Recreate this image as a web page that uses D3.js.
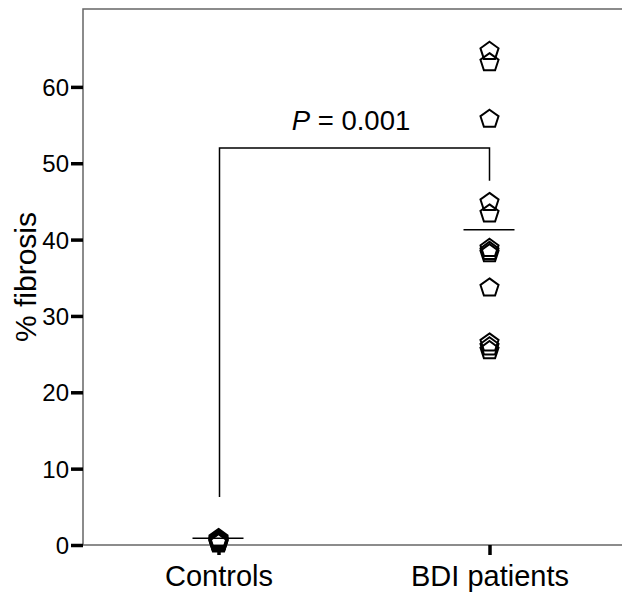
<!DOCTYPE html>
<html>
<head>
<meta charset="utf-8">
<script src="https://cdn.jsdelivr.net/npm/d3@7"></script>
<style>
  body { margin: 0; background: #fff; }
  text { font-family: "Liberation Sans", Arial, sans-serif; fill: #000; }
</style>
</head>
<body>
<div id="chart"></div>
<script>
// groups on the x axis
const groups = ['Controls', 'BDI patients'];
// individual % fibrosis values
const controlValues = [0.3, 0.4, 0.5, 0.5, 0.6, 0.7, 0.8, 1.0];
const bdiValues = [64.8, 63.3, 55.9, 45.0, 43.5, 39.0, 38.6, 38.3, 33.8, 26.6, 26.1, 25.6];
// horizontal mean lines
const means = [0.9, 41.3];
const yTicks = [0, 10, 20, 30, 40, 50, 60];
// significance bracket: [left foot, top, right foot]
const bracket = [6.3, 52.0, 47.7];
const pLabel = '0.001';

const W = 622, H = 592;
const margin = {top: 9, right: 0, bottom: 47, left: 83};

let svg = d3.select('#chart').append('svg')
    .attr('width', W)
    .attr('height', H);

let x = d3.scalePoint()
  .domain(groups)
  .range([margin.left, 625])
  .padding(0.5);

let y = d3.scaleLinear()
  .domain([0, 70.2])
  .range([H - margin.bottom, margin.top]);

// frame: left + top, gray
svg.append('path')
  .attr('d', `M${margin.left},${H - margin.bottom}V${margin.top}H${W}`)
  .attr('fill', 'none')
  .attr('stroke', '#666')
  .attr('stroke-width', 1.5);

// y axis
let yAxis = svg.append('g')
  .attr('transform', `translate(${margin.left},0)`)
  .call(d3.axisLeft(y).tickValues(yTicks).tickSize(12).tickPadding(2).tickFormat(d3.format('d')));
yAxis.select('.domain').remove();
yAxis.selectAll('.tick line').attr('stroke', '#000').attr('stroke-width', 3.5);
yAxis.selectAll('.tick text').style('font-size', '24px').attr('dy', '0.36em');

// x axis
let xAxis = svg.append('g')
  .attr('transform', `translate(0,${y(0)})`)
  .call(d3.axisBottom(x).tickSize(10).tickPadding(10));
xAxis.select('.domain')
  .attr('d', `M${margin.left},0H${W}`)
  .attr('stroke', '#666')
  .attr('stroke-width', 1.5);
xAxis.selectAll('.tick line').attr('stroke', '#000').attr('stroke-width', 3.5);
xAxis.selectAll('.tick text').style('font-size', '29px');

// y label
svg.append('text')
  .attr('transform', `translate(36,${(y(0) + y(70.2)) / 2}) rotate(-90)`)
  .attr('text-anchor', 'middle')
  .style('font-size', '30px')
  .text('% fibrosis');

// pentagon outline
let pentagon = (r) => {
  let pts = d3.range(5).map(i => {
    let a = -Math.PI / 2 + i * 2 * Math.PI / 5;
    return [r * Math.cos(a), r * Math.sin(a)];
  });
  return 'M' + pts.join('L') + 'Z';
};

let series = [controlValues, bdiValues];
series.forEach((vals, gi) => {
  svg.append('g').selectAll('path')
    .data(vals)
    .enter()
    .append('path')
      .attr('d', pentagon(9.5))
      .attr('transform', d => `translate(${x(groups[gi])},${y(d) + 1})`)
      .attr('fill', 'none')
      .attr('stroke', '#000')
      .attr('stroke-width', 2);
});

// mean lines
svg.append('g').selectAll('line')
  .data(means)
  .enter()
  .append('line')
    .attr('x1', (d, i) => x(groups[i]) - 26)
    .attr('x2', (d, i) => x(groups[i]) + 25)
    .attr('y1', d => y(d))
    .attr('y2', d => y(d))
    .attr('stroke', '#000')
    .attr('stroke-width', 1.5);

// significance bracket
let x0 = x(groups[0]) + 1, x1 = x(groups[1]);
svg.append('path')
  .attr('d', `M${x0},${y(bracket[0])}V${y(bracket[1])}H${x1}V${y(bracket[2])}`)
  .attr('fill', 'none')
  .attr('stroke', '#000')
  .attr('stroke-width', 1.5);

let pText = svg.append('text')
  .attr('x', 351)
  .attr('y', y(bracket[1]) - 18)
  .attr('text-anchor', 'middle')
  .style('font-size', '27.5px');
pText.append('tspan').style('font-style', 'italic').text('P');
pText.append('tspan').text(' = ' + pLabel);
</script>
</body>
</html>
